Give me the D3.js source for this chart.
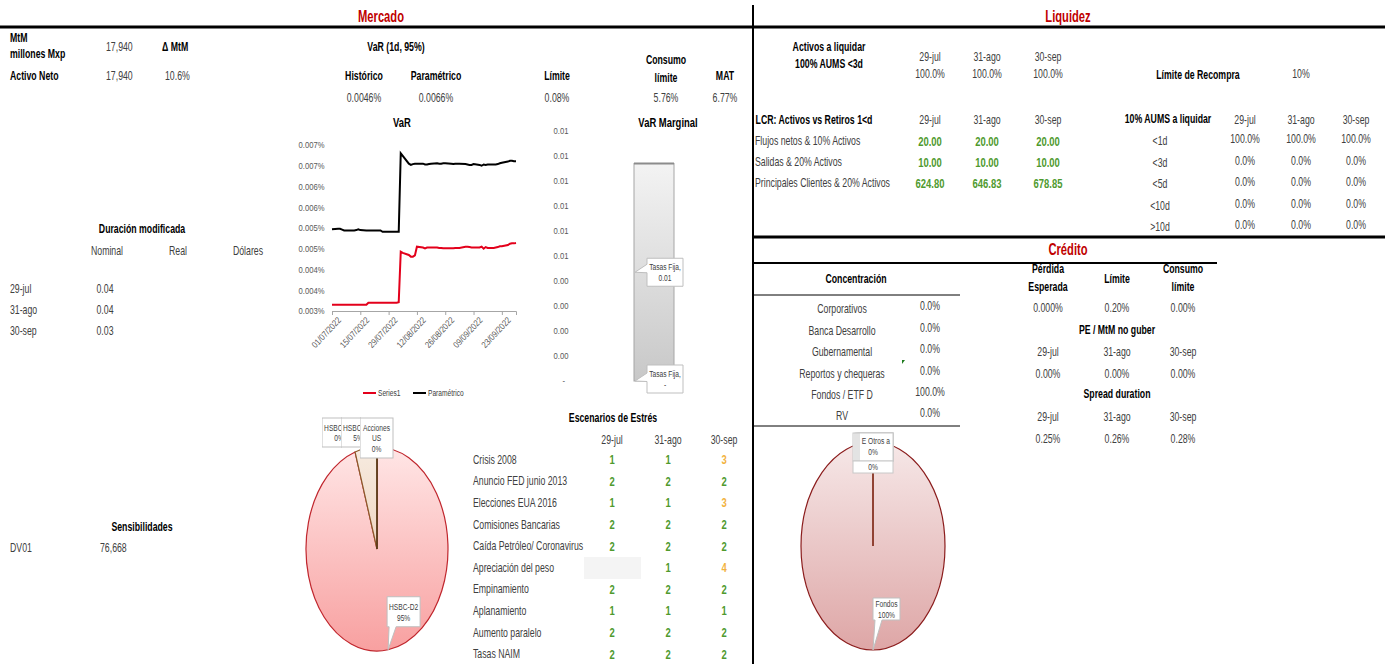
<!DOCTYPE html>
<html>
<head>
<meta charset="utf-8">
<script src="https://cdn.jsdelivr.net/npm/d3@7"></script>
<style>
  body { margin: 0; background: #fff; }
  svg text { font-family: "Liberation Sans", Arial, sans-serif; }
</style>
</head>
<body>
<div id="dash"></div>
<script>
// ---- data ----
var fechas = ["29-jul", "31-ago", "30-sep"];

var mtm = "17,940", activoNeto = "17,940", deltaMtM = "10.6%";
var varHeaders = ["Histórico", "Paramétrico", "Límite", "Consumo|límite", "MAT"];
var varValores = ["0.0046%", "0.0066%", "0.08%", "5.76%", "6.77%"];

var duracionCols = ["Nominal", "Real", "Dólares"];
var duracionNominal = ["0.04", "0.04", "0.03"];
var dv01 = "76,668";

// VaR diario (%) por dia habil
var histJul = [0.00315,0.00315,0.00315,0.00315,0.00315,0.00315,0.00315,0.00315,0.00315,0.00315,0.00315,0.00315,
               0.00320,0.00320,0.00320,0.00320,0.00320,0.00320,0.00320,0.00320,0.00320];
var histAgo = [0.00320,0.00320,0.00321,0.00443,0.00440,0.00435,0.00431,0.00431,0.00434,0.00455,0.00453,0.00451,
               0.00453,0.00453,0.00453,0.00453,0.00452,0.00452,0.00451,0.00451,0.00451,0.00451,0.00452];
var histSep = [0.00452,0.00452,0.00455,0.00455,0.00454,0.00453,0.00453,0.00453,0.00455,0.00450,0.00454,0.00452,
               0.00452,0.00453,0.00454,0.00456,0.00456,0.00459,0.00462,0.00463,0.00463,0.00464];
var paramJul = [0.00497,0.00498,0.00498,0.00496,0.00494,0.00494,0.00494,0.00494,0.00495,0.00497,0.00495,0.00494,
                0.00494,0.00494,0.00494,0.00494,0.00494,0.00491,0.00491,0.00491,0.00491];
var paramAgo = [0.00491,0.00491,0.00491,0.00680,0.00674,0.00655,0.00652,0.00654,0.00655,0.00655,0.00655,0.00653,
                0.00653,0.00654,0.00655,0.00656,0.00655,0.00655,0.00656,0.00656,0.00655,0.00654,0.00655];
var paramSep = [0.00655,0.00655,0.00654,0.00653,0.00652,0.00652,0.00654,0.00652,0.00650,0.00653,0.00652,0.00653,
                0.00653,0.00653,0.00654,0.00656,0.00657,0.00660,0.00662,0.00662,0.00661,0.00661];
var varTicks = ["2022-07-01","2022-07-15","2022-07-29","2022-08-12","2022-08-26","2022-09-09","2022-09-23"];

var margCats = ["Tasas Fija", "Tasas Fija"];
var margVals = [0, 0.0087];

var carteraNombres = ["HSBC-D2", "HSBC-DE", "HSBC-RV", "Acciones US"];
var carteraPct = [95, 5, 0, 0];

var escenarios = ["Crisis 2008", "Anuncio FED junio 2013", "Elecciones EUA 2016", "Comisiones Bancarias",
  "Caída Petróleo/ Coronavirus", "Apreciación del peso", "Empinamiento", "Aplanamiento", "Aumento paralelo", "Tasas NAIM"];
var estresJul = [1, 2, 1, 2, 2, null, 2, 1, 2, 2];
var estresAgo = [1, 2, 1, 2, 2, 1, 2, 1, 2, 2];
var estresSep = [3, 2, 3, 2, 2, 4, 2, 1, 2, 2];

var activosLiquidar = ["100.0%", "100.0%", "100.0%"];
var limiteRecompra = "10%";
var lcrRows = ["Flujos netos & 10% Activos", "Salidas & 20% Activos", "Principales Clientes & 20% Activos"];
var lcrVals = [["20.00", "20.00", "20.00"], ["10.00", "10.00", "10.00"], ["624.80", "646.83", "678.85"]];
var aumsPlazos = ["<1d", "<3d", "<5d", "<10d", ">10d"];
var aumsVals = [[100, 100, 100], [0, 0, 0], [0, 0, 0], [0, 0, 0], [0, 0, 0]];

var concCats = ["Corporativos", "Banca Desarrollo", "Gubernamental", "Reportos y chequeras", "Fondos / ETF D", "RV"];
var concVals = [0, 0, 0, 0, 100, 0];
var peVals = ["0.000%", "0.20%", "0.00%"];
var peMtm = ["0.00%", "0.00%", "0.00%"];
var spreadDur = ["0.25%", "0.26%", "0.28%"];

var creditoNombres = ["Fondos", "IE", "Otros", "Bancos"];
var creditoPct = [100, 0, 0, 0];

// ---- setup ----
var W = 1385, H = 664;
var RED = "#c00000", GREEN = "#4f9a2e", ORANGE = "#f2b23e", GREY = "#404040";
var SX = 0.7; // narrow look

var svg = d3.select("#dash").append("svg")
    .attr("width", W)
    .attr("height", H);
var defs = svg.append("defs");

function txt(x, y, s, o) {
  o = o || {};
  return (o.g || svg).append("text")
      .attr("transform", "translate(" + x + "," + y + ") scale(" + (o.sx || SX) + ",1)")
      .attr("dy", "0.35em")
      .attr("text-anchor", o.a || "middle")
      .style("font-size", (o.fs || 12.5) + "px")
      .style("font-weight", o.b ? "bold" : "normal")
      .attr("fill", o.c || (o.b ? "#000" : GREY))
      .text(s);
}
function hline(x1, x2, y, w) {
  svg.append("line").attr("x1", x1).attr("x2", x2).attr("y1", y).attr("y2", y)
      .attr("stroke", "#000").attr("stroke-width", w);
}
function grad(id, c1, c2) {
  var g = defs.append("linearGradient").attr("id", id)
      .attr("x1", 0).attr("y1", 0).attr("x2", 0).attr("y2", 1);
  g.append("stop").attr("offset", "0%").attr("stop-color", c1);
  g.append("stop").attr("offset", "100%").attr("stop-color", c2);
}
// callout box with pointer; side = "bottom" or "left"
function callout(g, x, y, w, h, tip, side, lines, fs) {
  var p;
  if (side === "bottom") {
    p = [[x, y], [x + w, y], [x + w, y + h], [x + 9, y + h], tip, [x + 2, y + h], [x, y + h]];
  } else {
    p = [[x, y], [x + w, y], [x + w, y + h], [x, y + h], [x, tip[1] + 0.5], tip, [x, tip[1] - 8]];
  }
  g.append("path").attr("d", "M" + p.join("L") + "Z")
      .attr("fill", "#fff").attr("stroke", "#bfbfbf").attr("stroke-width", 1);
  var lh = fs + 1.5, y0 = y + h / 2 - (lines.length - 1) * lh / 2;
  lines.forEach(function(l, i) {
    txt(x + w / 2, y0 + i * lh, l, {g: g, fs: fs});
  });
}

// ---- frame ----
hline(0, W, 27, 3);
svg.append("line").attr("x1", 753).attr("x2", 753).attr("y1", 5).attr("y2", H)
    .attr("stroke", "#000").attr("stroke-width", 2);
hline(752, W, 237, 3);
hline(752, 1217, 263, 2);
hline(752, 960, 295, 1);
hline(752, 960, 426, 1);

txt(381, 16, "Mercado", {b: true, c: RED, fs: 16});
txt(1068, 16, "Liquidez", {b: true, c: RED, fs: 16});
txt(1068, 249, "Crédito", {b: true, c: RED, fs: 16});

// ---- Mercado: resumen ----
txt(10, 38, "MtM", {a: "start", b: true});
txt(10, 54, "millones Mxp", {a: "start", b: true});
txt(106, 47, mtm, {a: "start"});
txt(162, 47, "\u0394 MtM", {a: "start", b: true});
txt(10, 76, "Activo Neto", {a: "start", b: true});
txt(106, 76, activoNeto, {a: "start"});
txt(165, 76, deltaMtM, {a: "start"});

txt(396, 47, "VaR (1d, 95%)", {b: true});
var varX = [364, 436, 557, 666, 725];
varHeaders.forEach(function(h, i) {
  var parts = h.split("|");
  if (parts.length === 2) {
    txt(varX[i], 60, parts[0], {b: true});
    txt(varX[i], 78, parts[1], {b: true});
  } else {
    txt(varX[i], 76, h, {b: true});
  }
  txt(varX[i], 98, varValores[i]);
});

// duracion
txt(142, 229, "Duración modificada", {b: true});
[107, 178, 248].forEach(function(x, i) { txt(x, 251, duracionCols[i]); });
fechas.forEach(function(f, i) {
  txt(10, 289 + i * 21, f, {a: "start"});
  txt(105, 289 + i * 21, duracionNominal[i]);
});
txt(142, 527, "Sensibilidades", {b: true});
txt(10, 548, "DV01", {a: "start"});
txt(100, 548, dv01, {a: "start"});

// ---- VaR line chart ----
var dias = d3.timeDay.range(new Date(2022, 6, 1), new Date(2022, 9, 1))
    .filter(function(d) { return d.getDay() !== 0 && d.getDay() !== 6; });
var varHist = histJul.concat(histAgo, histSep);
var varParam = paramJul.concat(paramAgo, paramSep);
var serieVar = dias.map(function(d, i) { return {fecha: d, hist: varHist[i], param: varParam[i]}; });

var xVar = d3.scaleTime().domain([new Date(2022, 6, 1), new Date(2022, 8, 30)]).range([332, 516]);
var yVar = d3.scaleLinear().domain([0.003, 0.007]).range([311, 145]);

txt(402, 122, "VaR", {b: true, fs: 13.5});

var gx = svg.append("g")
    .attr("transform", "translate(0,311)")
    .call(d3.axisBottom(xVar)
        .tickValues(varTicks.map(function(s) { return d3.timeParse("%Y-%m-%d")(s); }))
        .tickSize(4)
        .tickFormat(d3.timeFormat("%d/%m/%Y")));
gx.select(".domain").attr("stroke", "#a6a6a6");
gx.selectAll(".tick line").attr("stroke", "#a6a6a6");
gx.selectAll(".tick text")
    .attr("fill", "#595959")
    .style("font-size", "9px")
    .attr("text-anchor", "end")
    .attr("dy", "0.3em")
    .attr("transform", "translate(2,3) rotate(-47) scale(0.85,1)");

var gy = svg.append("g")
    .attr("transform", "translate(327,0)")
    .call(d3.axisLeft(yVar)
        .tickValues(d3.range(0, 9).map(function(i) { return 0.003 + i * 0.0005; }))
        .tickSize(0)
        .tickFormat(function(d) { return (Math.round(d * 1000 + 1e-6) / 1000).toFixed(3) + "%"; }));
gy.select(".domain").remove();
gy.selectAll("text").attr("fill", "#595959").style("font-size", "9px")
    .attr("transform", "scale(0.85,1)");

var lineHist = d3.line().x(function(d) { return xVar(d.fecha); }).y(function(d) { return yVar(d.hist); });
var lineParam = d3.line().x(function(d) { return xVar(d.fecha); }).y(function(d) { return yVar(d.param); });
svg.append("path").datum(serieVar).attr("d", lineParam)
    .attr("fill", "none").attr("stroke", "#000").attr("stroke-width", 2);
svg.append("path").datum(serieVar).attr("d", lineHist)
    .attr("fill", "none").attr("stroke", "#e3001b").attr("stroke-width", 2);

// legend
var leg = [{n: "Series1", c: "#e3001b", x: 363}, {n: "Paramétrico", c: "#000", x: 413}];
leg.forEach(function(l) {
  svg.append("line").attr("x1", l.x).attr("x2", l.x + 13).attr("y1", 393).attr("y2", 393)
      .attr("stroke", l.c).attr("stroke-width", 2);
  txt(l.x + 15, 393, l.n, {a: "start", fs: 9.5});
});

// ---- VaR Marginal ----
txt(668, 122, "VaR Marginal", {b: true, fs: 13.5});
var yMarg = d3.scaleLinear().domain([0, 0.010]).range([381, 131]);
var xMarg = d3.scaleBand().domain(["Tasas Fija"]).range([594, 714]).padding(0.5);
var gm = svg.append("g")
    .attr("transform", "translate(571,0)")
    .call(d3.axisLeft(yMarg)
        .tickValues(d3.range(0, 11).map(function(i) { return i * 0.001; }))
        .tickSize(0)
        .tickFormat(function(d) { return d < 1e-9 ? "-" : (Math.round(d * 100 + 1e-6) / 100).toFixed(2); }));
gm.select(".domain").remove();
gm.selectAll("text").attr("fill", "#595959").style("font-size", "9px")
    .attr("transform", "scale(0.85,1)")
    .attr("dx", function(d) { return d < 1e-9 ? "-4" : "0"; });

var barGrad = defs.append("linearGradient").attr("id", "gBar").attr("x1", 0).attr("y1", 0).attr("x2", 0).attr("y2", 1);
barGrad.append("stop").attr("offset", "0%").attr("stop-color", "#f3f3f3");
barGrad.append("stop").attr("offset", "100%").attr("stop-color", "#c8c8c8");

var stackMarg = [];
var acc = 0;
margVals.forEach(function(v, i) { stackMarg.push({cat: margCats[i], y0: acc, y1: acc + v, v: v}); acc += v; });
var gbar = svg.append("g");
stackMarg.forEach(function(s) {
  if (s.v <= 0) return;
  gbar.append("rect")
      .attr("x", xMarg("Tasas Fija"))
      .attr("y", yMarg(s.y1))
      .attr("width", xMarg.bandwidth())
      .attr("height", yMarg(s.y0) - yMarg(s.y1))
      .attr("fill", "url(#gBar)")
      .attr("stroke", "#a6a6a6");
  gbar.append("line")
      .attr("x1", xMarg("Tasas Fija")).attr("x2", xMarg("Tasas Fija") + xMarg.bandwidth())
      .attr("y1", yMarg(s.y1)).attr("y2", yMarg(s.y1))
      .attr("stroke", "#8c8c8c").attr("stroke-width", 2);
});
stackMarg.forEach(function(s) {
  var xl = xMarg("Tasas Fija");
  var ym = yMarg((s.y0 + s.y1) / 2);
  var lbl = s.v > 0 ? (Math.round(s.v * 100) / 100).toFixed(2) : "-";
  var top = s.v > 0 ? ym - 14 : ym - 16;
  callout(gbar, xl + 13, top, 36, 28, [xl + 1, ym], "left", [s.cat + ",", lbl], 9.5);
});

// ---- pies ----
function pieEllipse(cx, cy, rx, ry, vals, fills, strokes) {
  var arcs = d3.pie().sort(null).value(function(d) { return d; })(vals);
  var arc = d3.arc().innerRadius(0).outerRadius(ry);
  var g = svg.append("g").attr("transform", "translate(" + cx + "," + cy + ") scale(" + (rx / ry) + ",1)");
  g.selectAll("path").data(arcs).enter().append("path")
      .attr("d", arc)
      .attr("fill", function(d, i) { return fills[i]; })
      .attr("stroke", function(d, i) { return strokes[i]; })
      .attr("stroke-width", 1.2)
      .attr("vector-effect", "non-scaling-stroke");
  return arcs.map(function(a) {
    var m = (a.startAngle + a.endAngle) / 2;
    return [cx + rx * Math.sin(m), cy - ry * Math.cos(m)];
  });
}

grad("gPie1", "#ffe6e6", "#f8a0a0");
grad("gPie1b", "#f7ebe0", "#efd6c2");
grad("gPie2", "#f6e8e8", "#dea6a6");

var pts1 = pieEllipse(377, 549, 71, 102, carteraPct,
    ["url(#gPie1)", "url(#gPie1b)", "#fff", "#fff"],
    ["#c0262d", "#8b5a2b", "#5a3a1a", "#5a3a1a"]);
var gl1 = svg.append("g");
callout(gl1, pts1[0][0] - 1, pts1[0][1] - 53, 33, 30, pts1[0], "bottom", [carteraNombres[0], carteraPct[0] + "%"], 9.5);

// overlapping small-slice labels (clipped like the source)
var small = [
  {i: 2, x: 322, w: 19},
  {i: 1, x: 341, w: 19},
  {i: 3, x: 360, w: 33}
];
small.forEach(function(s, k) {
  var id = "clipS" + k;
  defs.append("clipPath").attr("id", id).append("rect")
      .attr("x", s.x).attr("y", 417).attr("width", s.w + 1).attr("height", 45);
  var g = gl1.append("g").attr("clip-path", "url(#" + id + ")");
  var lines = s.i === 3 ? ["Acciones", "US", carteraPct[s.i] + "%"] : [carteraNombres[s.i], carteraPct[s.i] + "%"];
  var h = s.i === 3 ? 40 : 29;
  g.append("rect").attr("x", s.x).attr("y", 418).attr("width", s.i === 3 ? s.w : 40).attr("height", h)
      .attr("fill", "#fff").attr("stroke", "#bfbfbf");
  var lh = 10.5, y0 = 418 + h / 2 - (lines.length - 1) * lh / 2;
  lines.forEach(function(l, j) {
    txt(s.i === 3 ? s.x + s.w / 2 : s.x + 17, y0 + j * lh, l, {g: g, fs: 9.5});
  });
});

var pts2 = pieEllipse(873, 546, 72, 104, creditoPct,
    ["url(#gPie2)", "#fff", "#fff", "#fff"],
    ["#8b1c1c", "#8b3a2a", "#8b3a2a", "#8b3a2a"]);
var gl2 = svg.append("g");
callout(gl2, pts2[0][0], pts2[0][1] - 52, 27, 22, pts2[0], "bottom", [creditoNombres[0], creditoPct[0] + "%"], 9.5);
// stacked zero labels at the top
[853, 855, 857, 859].forEach(function(x) {
  gl2.append("rect").attr("x", x).attr("y", 433).attr("width", 40 - (x - 853)).attr("height", 28)
      .attr("fill", "#fff").attr("stroke", "#c8c8c8");
});
txt(864, 441, "E", {g: gl2, fs: 9.5});
txt(879, 441, creditoNombres[2] + " a", {g: gl2, fs: 9.5});
txt(873, 452, creditoPct[2] + "%", {g: gl2, fs: 9.5});
gl2.append("rect").attr("x", 853).attr("y", 461).attr("width", 40).attr("height", 12)
    .attr("fill", "#fff").attr("stroke", "#c8c8c8");
txt(873, 467, creditoPct[1] + "%", {g: gl2, fs: 9.5});

// ---- Escenarios de Estres ----
txt(613, 418, "Escenarios de Estrés", {b: true});
var escX = [612, 668, 724];
fechas.forEach(function(f, i) { txt(escX[i], 440, f); });
svg.append("rect").attr("x", 584).attr("y", 557).attr("width", 57).attr("height", 22).attr("fill", "#f4f4f4");
defs.append("clipPath").attr("id", "clipEsc").append("rect")
    .attr("x", 465).attr("y", 440).attr("width", 119).attr("height", 230);
var gEsc = svg.append("g").attr("clip-path", "url(#clipEsc)");
escenarios.forEach(function(e, i) {
  var y = 459.5 + i * 21.6;
  txt(473, y, e, {g: gEsc, a: "start"});
  [estresJul, estresAgo, estresSep].forEach(function(arr, j) {
    var v = arr[i];
    if (v == null) return;
    txt(escX[j], y, v, {b: true, fs: 13.5, c: v >= 3 ? ORANGE : GREEN});
  });
});

// ---- Liquidez ----
var liqX = [930, 987, 1048];
txt(829, 47, "Activos a liquidar", {b: true});
txt(829, 64, "100% AUMS <3d", {b: true});
fechas.forEach(function(f, i) {
  txt(liqX[i], 57, f);
  txt(liqX[i], 74, activosLiquidar[i]);
});
txt(1198, 75, "Límite de Recompra", {b: true});
txt(1301, 74, limiteRecompra);

txt(814, 120, "LCR: Activos vs Retiros 1<d", {b: true});
fechas.forEach(function(f, i) { txt(liqX[i], 120, f); });
lcrRows.forEach(function(r, i) {
  var y = 141 + i * 21;
  txt(755, y, r, {a: "start"});
  lcrVals[i].forEach(function(v, j) { txt(liqX[j], y, v, {b: true, fs: 13.5, c: GREEN}); });
});

var aumsX = [1245, 1301, 1356];
txt(1168, 119, "10% AUMS a liquidar", {b: true});
fechas.forEach(function(f, i) { txt(aumsX[i], 120, f); });
aumsPlazos.forEach(function(p, i) {
  var y = 141 + i * 21.5;
  txt(1160, y, p);
  aumsVals[i].forEach(function(v, j) { txt(aumsX[j], y - 2, v.toFixed(1) + "%"); });
});

// ---- Credito ----
txt(856, 279, "Concentración", {b: true});
concCats.forEach(function(c, i) {
  var y = 309 + i * 21.4;
  txt(842, y, c);
  txt(930, y - 3, concVals[i].toFixed(1) + "%");
});
svg.append("path").attr("d", "M902,360L905,360L902,364Z").attr("fill", "#1e7b1e");

var crX = [1048, 1117, 1183];
txt(crX[0], 269, "Pérdida", {b: true});
txt(crX[0], 287, "Esperada", {b: true});
txt(crX[1], 279, "Límite", {b: true});
txt(crX[2], 269, "Consumo", {b: true});
txt(crX[2], 287, "límite", {b: true});
peVals.forEach(function(v, i) { txt(crX[i], 308, v); });
txt(crX[1], 330, "PE / MtM no guber", {b: true});
fechas.forEach(function(f, i) { txt(crX[i], 352, f); });
peMtm.forEach(function(v, i) { txt(crX[i], 374, v); });
txt(crX[1], 394, "Spread duration", {b: true});
fechas.forEach(function(f, i) { txt(crX[i], 417, f); });
spreadDur.forEach(function(v, i) { txt(crX[i], 439, v); });
</script>
</body>
</html>
